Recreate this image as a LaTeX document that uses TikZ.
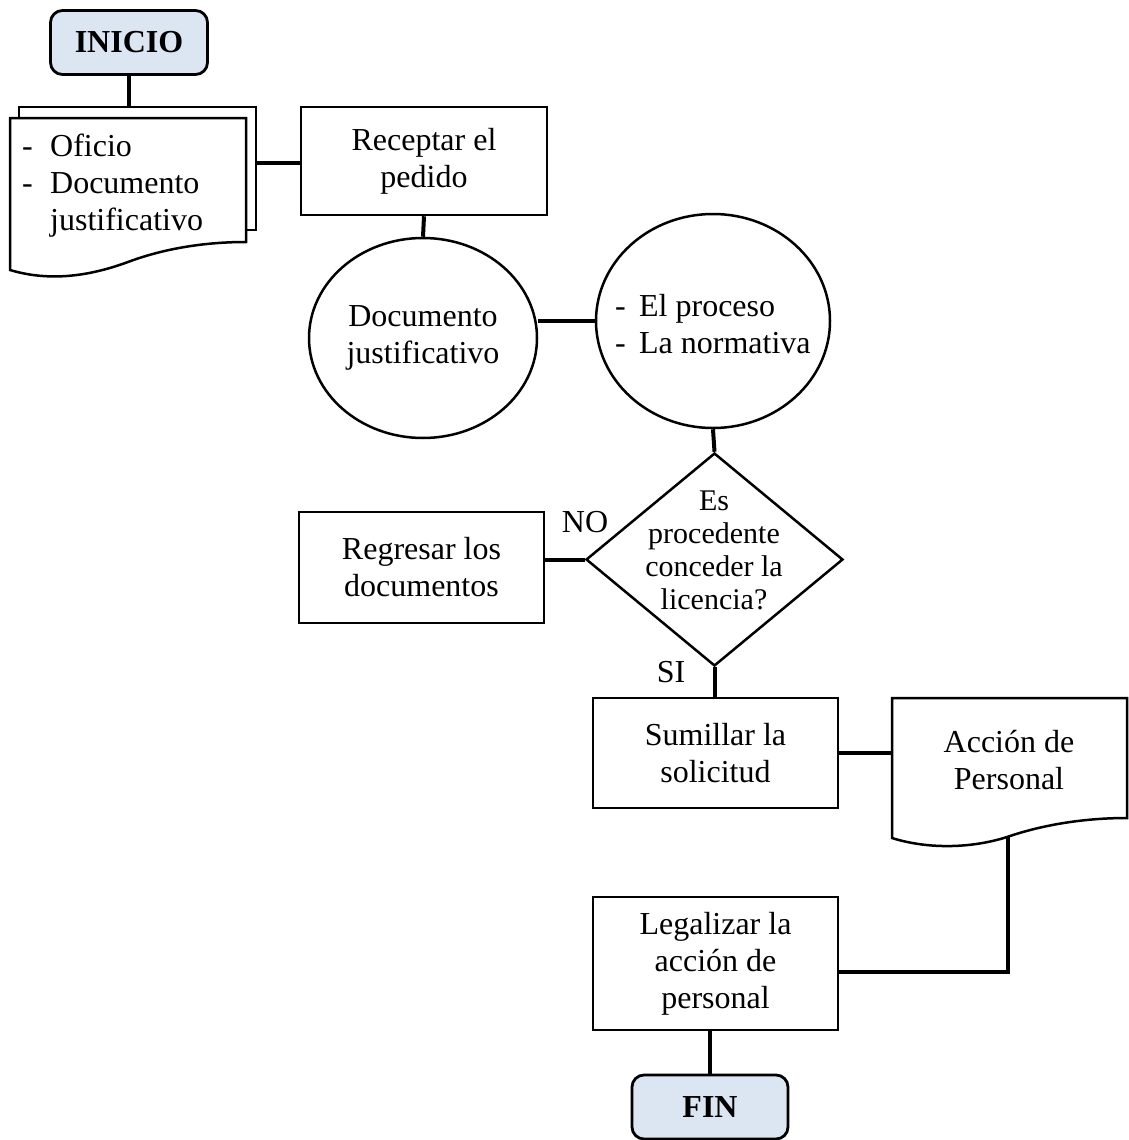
\documentclass[tikz,border=0pt]{standalone}
\usepackage{fontspec}
\setmainfont{Liberation Serif}
\usetikzlibrary{shapes.geometric}
\definecolor{terminal}{HTML}{DCE6F2}

\begin{document}
\begin{tikzpicture}[x=1pt,y=-1pt,
  every node/.style={font=\fontsize{32}{37}\selectfont,inner sep=0pt},
  box/.style={draw,line width=2.5pt,align=center},
  term/.style={box,rounded corners=12pt,fill=terminal,line width=2.8pt,font=\fontsize{32}{37}\selectfont\bfseries},
  sheet/.style={draw,fill=white,line width=2.5pt},
  link/.style={line width=4pt}]
\useasboundingbox (0,0) rectangle (1129,1140);

\node[term,minimum width=157pt,minimum height=64pt] (inicio) at (129,42.5) {INICIO};

% oficio y documento justificativo
\draw[sheet] (19,107) rectangle (256,230);
\draw[sheet] (10,118) -- (246,118) -- (246,242)
  .. controls (200,242) and (160,250) .. (128,262)
  .. controls (90,276) and (50,282) .. (10,270) -- cycle;
\coordinate (hojas-n) at (129,107);
\coordinate (hojas-e) at (256,163);
\node[anchor=west,align=left] (hojas) at (22,186)
  {\makebox[28pt][l]{-}Oficio\\ \makebox[28pt][l]{-}Documento\\ \makebox[28pt][l]{}justificativo};

\node[box,minimum width=246pt,minimum height=108pt] (recep) at (424,161) {Receptar el\\pedido};
\node[box,ellipse,minimum width=228pt,minimum height=200pt] (elip) at (423,338) {Documento\\justificativo};
\node[box,ellipse,minimum width=234pt,minimum height=214pt] (proc) at (713,321) {};
\node[anchor=west,align=left] (proctext) at (615,324)
  {\makebox[24pt][l]{-}El proceso\\ \makebox[24pt][l]{-}La normativa};

\node[box,diamond,minimum width=257pt,minimum height=213pt] (dec) at (714.5,559.5) {};
\node[align=center,font=\fontsize{30}{33}\selectfont] (dectext) at (714,550)
  {Es\\procedente\\conceder la\\licencia?};
\node (no) at (585,522) {NO};
\node (si) at (671,672) {SI};

\node[box,minimum width=245pt,minimum height=111pt] (regre) at (421.5,567.5) {Regresar los\\documentos};
\node[box,minimum width=245pt,minimum height=110pt] (sumi) at (715.5,753) {Sumillar la\\solicitud};

% accion de personal
\draw[sheet] (892,698) -- (1127,698) -- (1127,818)
  .. controls (1080,818) and (1040,826) .. (1010,836)
  .. controls (975,848) and (930,850) .. (892,838) -- cycle;
\coordinate (accion-w) at (892,753);
\coordinate (accion-s) at (1008,837);
\node[align=center] (accion) at (1009,760) {Acci\'on de\\Personal};

\node[box,minimum width=245pt,minimum height=133pt] (legal) at (715.5,963.5) {Legalizar la\\acci\'on de\\personal};
\node[term,minimum width=156pt,minimum height=64pt] (fin) at (710,1107) {FIN};

\draw[link] (inicio.south) -- (hojas-n);
\draw[link] (hojas-e) -- (hojas-e -| recep.west);
\draw[link] (recep.south) -- (elip.north);
\draw[link] (proc.west) -- (proc.west -| elip.east);
\draw[link] (proc.south) -- (dec.north);
\draw[link] (dec.west) -- (dec.west -| regre.east);
\draw[link] (dec.south) -- (dec.south |- sumi.north);
\draw[link] (sumi.east) -- (accion-w);
\draw[link] (accion-s) |- ([yshift=-8pt]legal.east);
\draw[link] (fin.north) -- (fin.north |- legal.south);

\end{tikzpicture}
\end{document}
